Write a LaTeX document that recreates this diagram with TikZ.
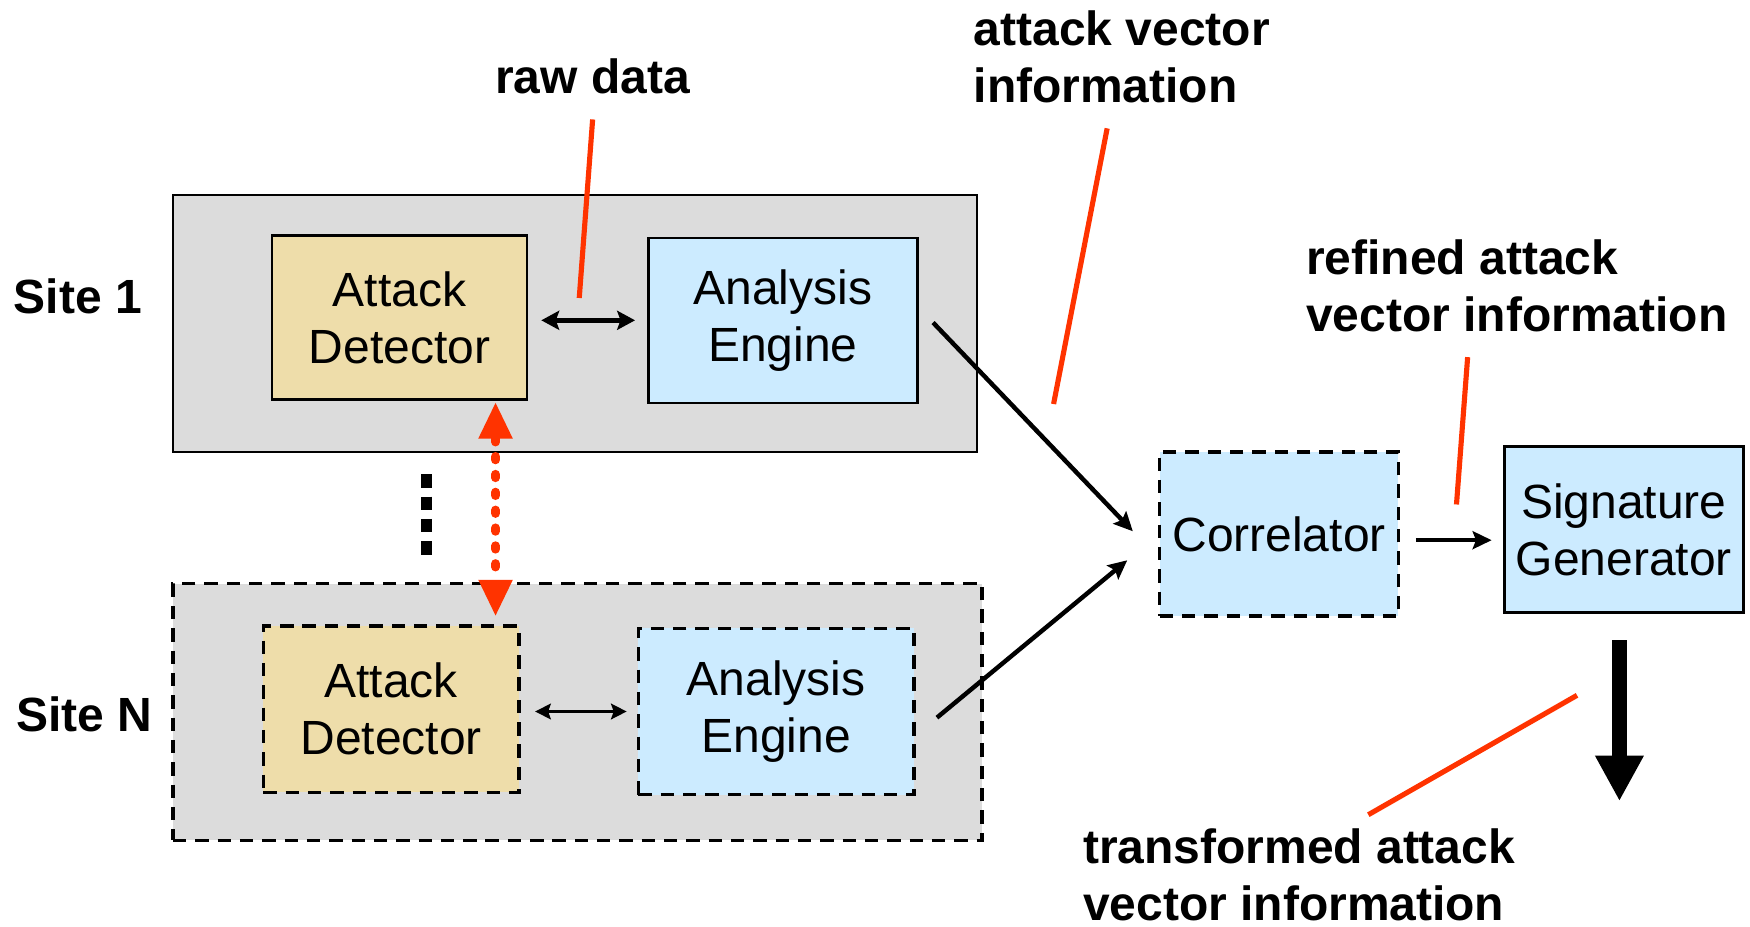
\documentclass[tikz,border=0pt]{standalone}
\usepackage{fontspec}
\setmainfont{Liberation Sans}
\usetikzlibrary{arrows.meta}
\definecolor{detfill}{RGB}{238,221,170}
\definecolor{engfill}{RGB}{204,235,255}
\definecolor{sitefill}{RGB}{220,220,220}
\definecolor{leader}{RGB}{255,51,0}
\newcommand\dgmfont{\fontsize{21.5}{25.5}\selectfont}
\begin{document}
\begin{tikzpicture}[x=0.5pt,y=-0.5pt,
  site/.style={draw=black, line width=0.9pt, fill=sitefill, inner sep=0pt},
  box/.style={draw=black, line width=1pt, align=center, inner sep=0pt, font=\dgmfont},
  dashbox/.style={box, line width=1.5pt, dash pattern=on 6pt off 4pt},
  det/.style={fill=detfill},
  eng/.style={fill=engfill},
  tag/.style={font=\dgmfont\bfseries, align=left, inner sep=0pt},
  leaderline/.style={draw=leader, line width=2.3pt},
  flow/.style={line width=2pt, -{Stealth[length=8.5pt,width=8pt,inset=1.5pt]}},
  pair/.style={line width=2.1pt, {Stealth[length=8pt,width=8.5pt,inset=1.5pt]}-{Stealth[length=8pt,width=8.5pt,inset=1.5pt]}},
  pairthin/.style={line width=1.4pt, {Stealth[length=7pt,width=7pt,inset=1.2pt]}-{Stealth[length=7pt,width=7pt,inset=1.2pt]}},
]
\useasboundingbox (0,0) rectangle (1568,830);

% sites
\node[site, minimum width=360pt, minimum height=115pt] (site1) at (515,290) {};
\node[site, dash pattern=on 6pt off 4pt, line width=1.5pt, minimum width=362.5pt, minimum height=115pt] (siteN) at (517.5,638) {};

% components of site 1
\node[box, det, minimum width=114pt, minimum height=73.5pt] (ad1) at (358,284.5) {Attack\\Detector};
\node[box, eng, minimum width=120.5pt, minimum height=74pt] (ae1) at (701.5,287) {Analysis\\Engine};

% components of site N
\node[dashbox, det, minimum width=114.5pt, minimum height=74.5pt] (adN) at (350.5,635.5) {Attack\\Detector};
\node[dashbox, eng, minimum width=123.5pt, minimum height=74.5pt] (aeN) at (695.5,637.5) {Analysis\\Engine};

% central components
\node[dashbox, eng, minimum width=107pt, minimum height=73.5pt] (corr) at (1146,478.5) {Correlator};
\node[box, eng, line width=1.5pt, minimum width=107pt, minimum height=74.5pt] (sg) at (1455,474.5) {Signature\\Generator};

% site labels
\node[tag, anchor=base west] (lab1) at (12,281) {Site 1};
\node[tag, anchor=base west] (labN) at (14,655) {Site N};

% annotation labels (anchored at the baseline of their last line)
\node[tag, anchor=base] (lraw) at (531,84) {raw data};
\node[tag, anchor=base west] (lavi) at (872,92) {attack vector\\information};
\node[tag, anchor=base west] (lref) at (1170,297) {refined attack\\vector information};
\node[tag, anchor=base west] (ltra) at (970,825) {transformed attack\\vector information};

% connectors inside the sites
\draw[pair, shorten <=6pt, shorten >=5.5pt] (ad1.east |- ae1.west) -- (ae1.west);
\draw[pairthin, shorten <=6.5pt, shorten >=4.5pt] (adN.east |- aeN.west) -- (aeN.west);

% exchange between the sites
\draw[leader, line width=4pt, line cap=round, dash pattern=on 1.5pt off 6.5pt,
  {Triangle[width=15.5pt,length=16pt,line width=0pt]}-{Triangle[width=15.5pt,length=16pt,line width=0pt]},
  shorten <=1pt, shorten >=4pt] (ad1.south -| 444,0) -- (adN.north -| 444,0);

% more sites in between
\draw[line width=5pt, dash pattern=on 6pt off 4pt] (382,425) -- (382,498);

% flow to the correlator and the generator
\coordinate (in1) at (1015,476);
\coordinate (inN) at (1010,502);
\draw[flow] ([xshift=6.5pt,yshift=-1pt]ae1.east) -- (in1);
\draw[flow] ([xshift=9.5pt,yshift=-2.75pt]aeN.east) -- (inN);
\draw[flow, shorten <=7pt, shorten >=5pt] ([yshift=-2.75pt]corr.east) -- ([yshift=-2.75pt]corr.east -| sg.west);
\coordinate (out) at (1451,717);
\draw[line width=7pt, -{Triangle[width=22pt,length=20pt,line width=0pt]}, shorten <=11.5pt] (sg.south -| out) -- (out);

% leader lines to the annotations
\coordinate (r1a) at (531,107); \coordinate (r1b) at (519,267);
\coordinate (r2a) at (992,115); \coordinate (r2b) at (944,362);
\coordinate (r3a) at (1315,320); \coordinate (r3b) at (1305,452);
\coordinate (r4a) at (1413,623); \coordinate (r4b) at (1226,730);
\draw[leaderline] (r1a) -- (r1b);
\draw[leaderline] (r2a) -- (r2b);
\draw[leaderline] (r3a) -- (r3b);
\draw[leaderline] (r4a) -- (r4b);
\end{tikzpicture}
\end{document}
